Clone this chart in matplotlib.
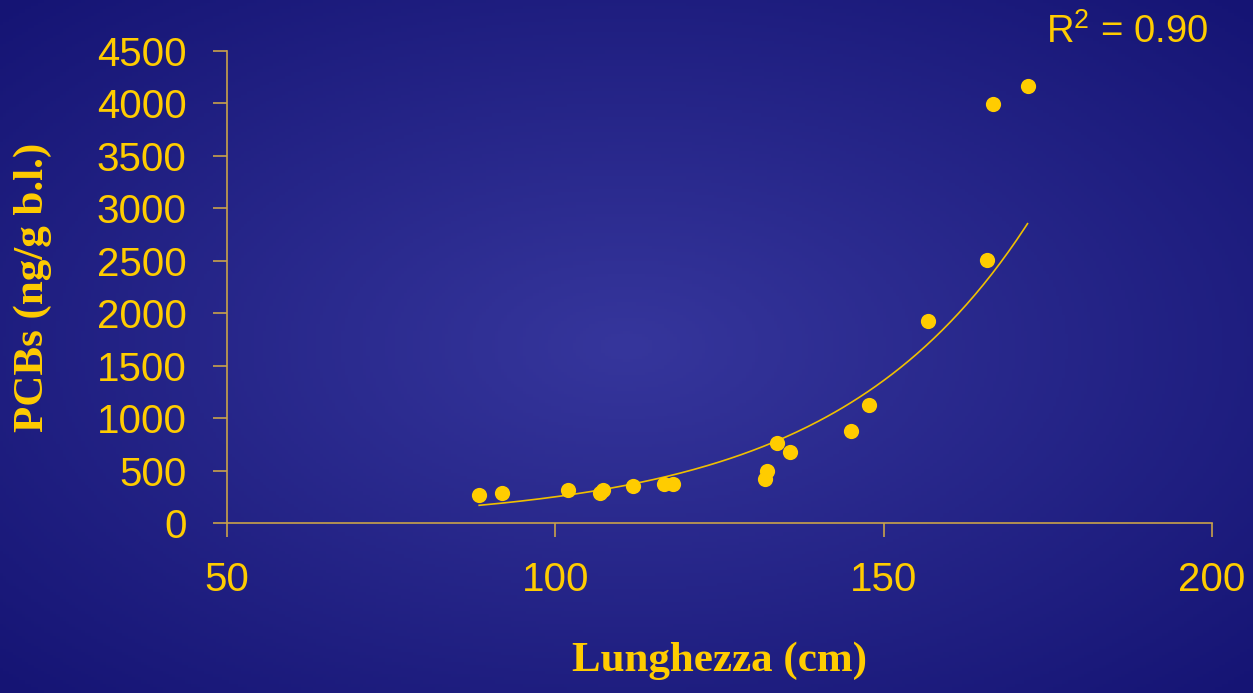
import numpy as np
import matplotlib.pyplot as plt

# data
lunghezza = [88.4, 91.9, 101.9, 106.8, 107.2, 111.8, 116.5, 117.9, 131.9,
             132.3, 133.7, 135.8, 145.0, 147.7, 156.8, 165.8, 166.7, 171.9]
pcbs = [267, 286, 315, 286, 315, 353, 372, 372, 420,
        496, 763, 677, 877, 1125, 1926, 2507, 3994, 4166]
x_ticks = [50, 100, 150, 200]
y_ticks = [0, 500, 1000, 1500, 2000, 2500, 3000, 3500, 4000, 4500]

yellow = "#FFCC00"
axis_col = "#C9A24A"

plt.rcParams["font.family"] = ["Liberation Sans", "DejaVu Sans"]
plt.rcParams["mathtext.fontset"] = "custom"
plt.rcParams["mathtext.rm"] = "Liberation Sans"

fig = plt.figure(figsize=(12.53, 6.93), dpi=100)

# radial background like the slide
bg = fig.add_axes([0, 0, 1, 1], zorder=0)
gx, gy = np.meshgrid(np.linspace(0, 1, 400), np.linspace(0, 1, 220))
r = np.sqrt(((gx - 0.5) / 0.75) ** 2 + ((gy - 0.5) / 0.75) ** 2)
r = np.clip(r / 0.94, 0, 1)
c_in = np.array([0x36, 0x36, 0x9C]) / 255
c_out = np.array([0x15, 0x14, 0x74]) / 255
img = c_in[None, None, :] * (1 - r[..., None]) + c_out[None, None, :] * r[..., None]
bg.imshow(img, extent=[0, 1, 0, 1], aspect="auto", origin="lower")
bg.axis("off")

ax = fig.add_axes([0.1812, 0.2453, 0.9673 - 0.1812, 0.9264 - 0.2453], zorder=1)
ax.set_facecolor("none")

ax.scatter(lunghezza, pcbs, s=120, color=yellow, zorder=3, linewidths=0)

# exponential trend line (fit on log values, as Excel does)
b, ln_a = np.polyfit(lunghezza, np.log(pcbs), 1)
xs = np.linspace(min(lunghezza), max(lunghezza), 200)
ax.plot(xs, np.exp(ln_a + b * xs), color="#F0C000", lw=1.2, zorder=2)

ax.set_xlim(50, 200)
ax.set_ylim(0, 4500)
ax.set_xticks(x_ticks)
ax.set_yticks(y_ticks)

for side in ["top", "right"]:
    ax.spines[side].set_visible(False)
for side in ["left", "bottom"]:
    ax.spines[side].set_color(axis_col)
    ax.spines[side].set_linewidth(1.2)

ax.tick_params(axis="y", direction="out", length=10, width=1.2, color=axis_col,
               labelcolor=yellow, labelsize=29, pad=19)
ax.tick_params(axis="x", direction="out", length=10, width=1.2, color=axis_col,
               labelcolor=yellow, labelsize=29, pad=17)

ax.set_xlabel("Lunghezza (cm)", family="Liberation Serif", fontweight="bold",
              fontsize=31, color=yellow)
ax.xaxis.set_label_coords(0.5, -0.252)
ax.set_ylabel("PCBs (ng/g b.l.)", family="Liberation Serif", fontweight="bold",
              fontsize=31, color=yellow, va="center")
ax.yaxis.set_label_coords(-0.197, 0.5)

fig.text(1046 / 1253, 1 - 43 / 693, r"R$^2$ = 0.90", fontsize=27.5, color=yellow,
         ha="left", va="baseline")

fig.savefig("out.png", dpi=100)
plt.close()
